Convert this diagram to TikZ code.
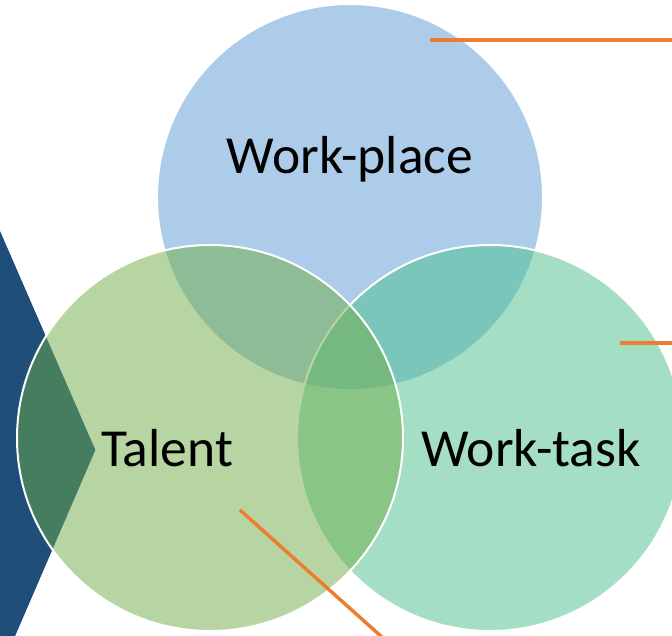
\documentclass[tikz,border=0pt]{standalone}
\usepackage{fontspec}
\setmainfont{Carlito}
\definecolor{cTop}{RGB}{91,155,213}
\definecolor{cLeft}{RGB}{112,173,71}
\definecolor{cRight}{RGB}{75,193,141}
\definecolor{cChev}{RGB}{31,78,121}
\definecolor{cOrange}{RGB}{237,125,49}
\tikzset{
  venn/.style={circle, minimum size=386pt, inner sep=0pt, fill opacity=0.5, draw=white, draw opacity=1, line width=2pt},
  lbl/.style={anchor=base, font=\fontsize{53.5}{60}\selectfont, text=black, inner sep=0pt},
  leader/.style={draw=cOrange, line width=3.5pt},
  chevron/.style={fill=cChev, draw=cChev!80!blue, line width=0.6pt}
}
\begin{document}
\begin{tikzpicture}[x=1pt,y=-1pt]
\useasboundingbox (0,0) rectangle (672,635);
\clip (0,0) rectangle (672,635);
\fill[white] (0,0) rectangle (672,635);
\path[chevron] (-3,225) -- (95,450) -- (13,640) -- (-3,640) -- cycle;
\node[venn, fill=cTop] (placec) at (350,197) {};
\node[venn, fill=cRight] (taskc) at (490,438) {};
\node[venn, fill=cLeft] (talentc) at (210,438) {};
\node[lbl] (place) at (350,173) {Work-place};
\node[lbl] (talent) at (167,466) {Talent};
\node[lbl] (task) at (531,466) {Work-task};
\coordinate (a1) at (430,40);
\coordinate (a2) at (675,40);
\coordinate (b1) at (620,343);
\coordinate (b2) at (675,343);
\coordinate (c1) at (240,510);
\coordinate (c2) at (383,638);
\draw[leader] (a1) -- (a2);
\draw[leader] (b1) -- (b2);
\draw[leader] (c1) -- (c2);
\end{tikzpicture}
\end{document}
